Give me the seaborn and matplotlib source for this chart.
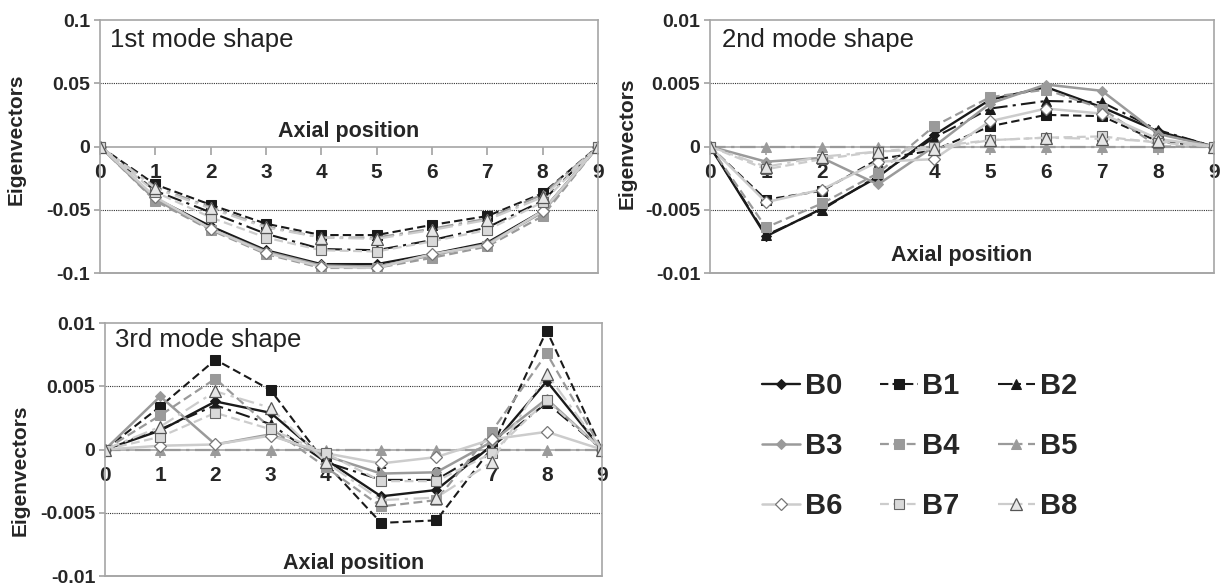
import matplotlib
matplotlib.use('Agg')
import matplotlib.pyplot as plt
import seaborn as sns

sns.set_theme(style='white')
plt.rcParams['font.family'] = ['Liberation Sans', 'DejaVu Sans']
plt.rcParams['axes.unicode_minus'] = False

# axial positions and beam names
positions = [0, 1, 2, 3, 4, 5, 6, 7, 8, 9]
beams = ['B0', 'B1', 'B2', 'B3', 'B4', 'B5', 'B6', 'B7', 'B8']

# 1st mode shape
mode1 = {
    'B0': [0, -0.041, -0.063, -0.082, -0.093, -0.093, -0.085, -0.076, -0.051, 0],
    'B1': [0, -0.030, -0.046, -0.061, -0.070, -0.070, -0.062, -0.055, -0.037, 0],
    'B2': [0, -0.035, -0.052, -0.069, -0.081, -0.082, -0.074, -0.064, -0.043, 0],
    'B3': [0, -0.042, -0.065, -0.083, -0.094, -0.095, -0.086, -0.077, -0.052, 0],
    'B4': [0, -0.043, -0.066, -0.085, -0.096, -0.096, -0.088, -0.079, -0.055, 0],
    'B5': [0, -0.032, -0.048, -0.063, -0.072, -0.072, -0.065, -0.057, -0.038, 0],
    'B6': [0, -0.040, -0.065, -0.084, -0.095, -0.096, -0.085, -0.078, -0.051, 0],
    'B7': [0, -0.036, -0.056, -0.072, -0.082, -0.083, -0.075, -0.066, -0.044, 0],
    'B8': [0, -0.033, -0.049, -0.064, -0.072, -0.073, -0.066, -0.058, -0.040, 0],
}

# 2nd mode shape
mode2 = {
    'B0': [0, -0.0071, -0.0049, -0.0024, 0.0009, 0.0037, 0.0047, 0.0031, 0.0012, 0],
    'B1': [0, -0.0042, -0.0035, -0.0010, -0.0003, 0.0016, 0.0025, 0.0024, 0.0004, 0],
    'B2': [0, -0.0070, -0.0050, -0.0023, 0.0007, 0.0030, 0.0036, 0.0035, 0.0013, 0],
    'B3': [0, -0.0012, -0.0009, -0.0030, 0.0000, 0.0034, 0.0049, 0.0044, 0.0010, 0],
    'B4': [0, -0.0064, -0.0045, -0.0021, 0.0016, 0.0039, 0.0045, 0.0030, 0.0000, 0],
    'B5': [0, 0, 0, 0, 0, 0, 0, 0, 0, 0],
    'B6': [0, -0.0044, -0.0034, -0.0012, -0.0010, 0.0020, 0.0030, 0.0026, 0.0006, 0],
    'B7': [0, -0.0018, -0.0010, -0.0004, 0.0000, 0.0005, 0.0007, 0.0008, 0.0003, 0],
    'B8': [0, -0.0016, -0.0008, -0.0004, -0.0002, 0.0005, 0.0007, 0.0006, 0.0004, 0],
}

# 3rd mode shape
mode3 = {
    'B0': [0, 0.0015, 0.0038, 0.0029, -0.0008, -0.0037, -0.0032, 0.0003, 0.0054, 0],
    'B1': [0, 0.0034, 0.0071, 0.0047, -0.0011, -0.0058, -0.0056, 0.0001, 0.0094, 0],
    'B2': [0, 0.0016, 0.0035, 0.0020, -0.0010, -0.0024, -0.0024, 0.0002, 0.0037, 0],
    'B3': [0, 0.0042, 0.0004, 0.0012, -0.0005, -0.0019, -0.0018, 0.0006, 0.0040, 0],
    'B4': [0, 0.0027, 0.0056, 0.0017, -0.0014, -0.0045, -0.0040, 0.0014, 0.0076, 0],
    'B5': [0, 0, 0, 0, 0, 0, 0, 0, 0, 0],
    'B6': [0, 0.0003, 0.0004, 0.0011, -0.0003, -0.0011, -0.0006, 0.0008, 0.0014, 0],
    'B7': [0, 0.0010, 0.0029, 0.0016, -0.0003, -0.0025, -0.0025, -0.0003, 0.0039, 0],
    'B8': [0, 0.0018, 0.0046, 0.0033, -0.0010, -0.0040, -0.0038, -0.0010, 0.0060, 0],
}

yticks1 = [-0.1, -0.05, 0, 0.05, 0.1]
yticklabels1 = ['-0.1', '-0.05', '0', '0.05', '0.1']
yticks23 = [-0.01, -0.005, 0, 0.005, 0.01]
yticklabels23 = ['-0.01', '-0.005', '0', '0.005', '0.01']

# line / marker style per beam
BLACK, MID, LIGHT = '#1a1a1a', '#9a9a9a', '#cccccc'
DASH = (0, (4, 2))
DASHDOT = (0, (7, 2.5, 1.5, 2.5))
styles = {
    'B0': dict(color=BLACK, linestyle='-', marker='D', ms=5, mfc=BLACK, mec=BLACK, lw=1.7),
    'B1': dict(color=BLACK, linestyle=DASH, marker='s', ms=6.5, mfc=BLACK, mec=BLACK, lw=1.5),
    'B2': dict(color=BLACK, linestyle=DASHDOT, marker='^', ms=7, mfc=BLACK, mec=BLACK, lw=1.5),
    'B3': dict(color=MID, linestyle='-', marker='D', ms=5.5, mfc=MID, mec=MID, lw=1.8),
    'B4': dict(color=MID, linestyle=DASH, marker='s', ms=6.5, mfc=MID, mec=MID, lw=1.6),
    'B5': dict(color=MID, linestyle=DASHDOT, marker='^', ms=7, mfc=MID, mec=MID, lw=1.6),
    'B6': dict(color=LIGHT, linestyle='-', marker='D', ms=6, mfc='white', mec='#777777', mew=0.9, lw=1.8),
    'B7': dict(color=LIGHT, linestyle=DASH, marker='s', ms=7, mfc='#d9d9d9', mec='#666666', mew=0.8, lw=1.6),
    'B8': dict(color=LIGHT, linestyle=DASHDOT, marker='^', ms=8, mfc='#e6e6e6', mec='#555555', mew=0.9, lw=1.6),
}

FRAME = '#a6a6a6'


def draw_panel(ax, mode, title, title_xy, yticks, yticklabels, xlabel_y, ylabel_xy):
    for b in beams:
        sns.lineplot(x=positions, y=mode[b], ax=ax, label=b, legend=False,
                     sort=False, estimator=None, **styles[b])
    ax.set_xlim(0, 9)
    ax.set_ylim(yticks[0], yticks[-1])

    # frame, with the x axis running through zero
    for s in ('top', 'right', 'left'):
        ax.spines[s].set_color(FRAME)
        ax.spines[s].set_linewidth(1.2)
    ax.spines['bottom'].set_position(('data', 0))
    ax.spines['bottom'].set_color(FRAME)
    ax.spines['bottom'].set_linewidth(1.2)
    ax.spines['bottom'].set_zorder(0.6)
    ax.axhline(yticks[0], color=FRAME, lw=1.4, clip_on=False)

    ax.set_xticks(positions)
    ax.set_xticklabels([str(p) for p in positions], fontsize=15, fontweight='bold')
    ax.set_yticks(yticks)
    ax.set_yticklabels(yticklabels, fontsize=14, fontweight='bold')
    ax.tick_params(axis='x', length=6, pad=6, color=FRAME, direction='out', bottom=True)
    ax.tick_params(axis='y', length=4, pad=3, color=FRAME, left=True)

    # dotted gridlines at the half-range values
    for yv in (yticks[1], yticks[3]):
        ax.axhline(yv, color='#333333', lw=0.8, linestyle=(0, (1, 1)), zorder=0.5)

    ax.set_xlabel('Axial position', fontsize=15.5, fontweight='bold')
    ax.xaxis.set_label_coords(0.5, xlabel_y)
    ax.set_ylabel('Eigenvectors', fontsize=15, fontweight='bold')
    ax.yaxis.set_label_coords(*ylabel_xy)
    ax.text(title_xy[0], title_xy[1], title, transform=ax.transAxes, fontsize=18.5,
            ha='left', va='baseline', color='#222222')


fig = plt.figure(figsize=(12.28, 5.87), dpi=100)
ax1 = fig.add_axes([0.0814, 0.5349, 0.4055, 0.4310])
ax2 = fig.add_axes([0.5782, 0.5349, 0.4104, 0.4310])
ax3 = fig.add_axes([0.0855, 0.0187, 0.4047, 0.4310])

draw_panel(ax1, mode1, '1st mode shape', (0.02, 0.894), yticks1, yticklabels1,
           0.6, (-0.15, 0.53))
draw_panel(ax2, mode2, '2nd mode shape', (0.024, 0.894), yticks23, yticklabels23,
           0.11, (-0.145, 0.514))
draw_panel(ax3, mode3, '3rd mode shape', (0.02, 0.904), yticks23, yticklabels23,
           0.09, (-0.151, 0.42))

# legend, laid out row by row
handles, labels = ax3.get_legend_handles_labels()
order = [0, 3, 6, 1, 4, 7, 2, 5, 8]
fig.legend([handles[i] for i in order], [labels[i] for i in order],
           loc='center', bbox_to_anchor=(0.749, 0.24), ncol=3, frameon=False,
           prop={'size': 21, 'weight': 'bold'}, handlelength=1.3,
           handletextpad=0.15, columnspacing=1.3, labelspacing=1.1)

fig.savefig('out.png', dpi=100)
